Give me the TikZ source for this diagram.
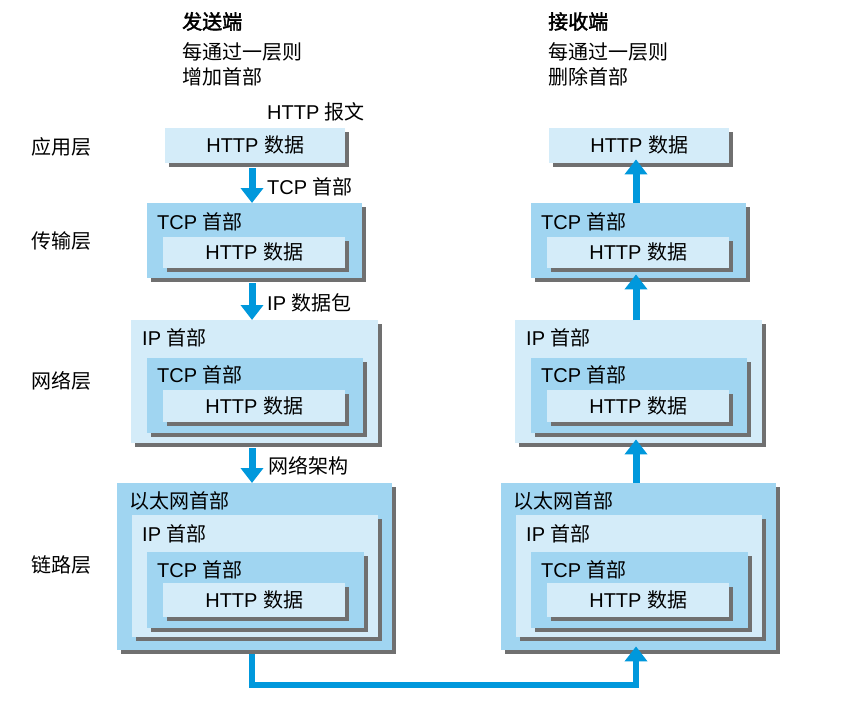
\documentclass[tikz,border=0pt]{standalone}
\usepackage{fontspec}
\setmainfont{Liberation Sans}
\newfontfamily\cjk{Noto Sans CJK SC}
\newfontfamily\cjkb[FakeBold=2]{Noto Sans CJK SC}
\usetikzlibrary{arrows.meta,shadows}
\definecolor{lightc}{RGB}{212,236,249}
\definecolor{midc}{RGB}{160,213,241}
\definecolor{flowc}{RGB}{0,152,220}
\definecolor{shadowc}{RGB}{112,112,112}
\tikzset{
  pkt/.style={draw=none, inner sep=0pt, anchor=north west,
    drop shadow={shadow xshift=4pt, shadow yshift=-4pt, fill=shadowc, opacity=1}},
  lightbox/.style={pkt, fill=lightc},
  midbox/.style={pkt, fill=midc},
  txt/.style={font=\fontsize{20}{24}\selectfont, inner sep=0pt, text height=17pt, text depth=3pt},
  hd/.style={txt, anchor=west},
  flow/.style={line width=7pt, draw=flowc, -{Triangle[width=22pt,length=15pt]}},
}
\newcommand{\pktstack}[1]{%
  % application
  \node[lightbox, minimum width=180pt, minimum height=35pt] (#1a) at (165,128) {};
  \node[txt] (#1at) at (#1a.center) {HTTP \cjk{数据}};
  % transport
  \node[midbox, minimum width=215pt, minimum height=75pt] (#1t) at (147,203) {};
  \node[hd] (#1tl) at (157,222) {TCP \cjk{首部}};
  \node[lightbox, minimum width=182pt, minimum height=31pt] (#1th) at (163,237) {};
  \node[txt] (#1tht) at (#1th.center) {HTTP \cjk{数据}};
  % network
  \node[lightbox, minimum width=247pt, minimum height=123pt] (#1n) at (131,320) {};
  \node[hd] (#1nl) at (142,338) {IP \cjk{首部}};
  \node[midbox, minimum width=216pt, minimum height=75pt] (#1nt) at (147,358) {};
  \node[hd] (#1ntl) at (157,375) {TCP \cjk{首部}};
  \node[lightbox, minimum width=182pt, minimum height=32pt] (#1nh) at (163,390) {};
  \node[txt] (#1nht) at (#1nh.center) {HTTP \cjk{数据}};
  % link
  \node[midbox, minimum width=275pt, minimum height=167pt] (#1l) at (117,483) {};
  \node[hd] (#1ll) at (129,501) {\cjk{以太网首部}};
  \node[lightbox, minimum width=246pt, minimum height=122pt] (#1li) at (132,515) {};
  \node[hd] (#1lil) at (142,534) {IP \cjk{首部}};
  \node[midbox, minimum width=217pt, minimum height=76pt] (#1lt) at (147,552) {};
  \node[hd] (#1ltl) at (157,570) {TCP \cjk{首部}};
  \node[lightbox, minimum width=182pt, minimum height=34pt] (#1lh) at (163,583) {};
  \node[txt] (#1lht) at (#1lh.center) {HTTP \cjk{数据}};
}
\begin{document}
\begin{tikzpicture}[x=1pt,y=-1pt]
\useasboundingbox (0,0) rectangle (866,715);
\fill[white] (0,0) rectangle (866,715);

\pktstack{L}
\begin{scope}[xshift=384pt]
  \pktstack{R}
\end{scope}

% headings
\node[hd] (h1) at (182,22) {\cjkb 发送端};
\node[hd] (h2) at (182,52) {\cjk 每通过一层则};
\node[hd] (h3) at (182,77) {\cjk 增加首部};
\node[hd] (h4) at (548,22) {\cjkb 接收端};
\node[hd] (h5) at (548,52) {\cjk 每通过一层则};
\node[hd] (h6) at (548,77) {\cjk 删除首部};
\node[hd] (msg) at (267,112) {HTTP \cjk{报文}};

% layer labels
\node[hd] (y1) at (31,147) {\cjk 应用层};
\node[hd] (y2) at (31,241) {\cjk 传输层};
\node[hd] (y3) at (31,381) {\cjk 网络层};
\node[hd] (y4) at (31,565) {\cjk 链路层};

% connectors
\coordinate (lx) at (252,0);
\coordinate (rx) at (636,0);
\coordinate (yb) at (0,685);
\draw[flow, shorten <=5pt] (lx |- La.south) -- (lx |- Lt.north);
\draw[flow, shorten <=5pt] (lx |- Lt.south) -- (lx |- Ln.north);
\draw[flow, shorten <=5pt] (lx |- Ln.south) -- (lx |- Ll.north);
\node[hd] (a1) at (267,187) {TCP \cjk{首部}};
\node[hd] (a2) at (267,303) {IP \cjk{数据包}};
\node[hd] (a3) at (268,466) {\cjk 网络架构};

\draw[flow, shorten >=-4pt] (rx |- Rt.north) -- (rx |- Ra.south);
\draw[flow, shorten >=-4pt] (rx |- Rn.north) -- (rx |- Rt.south);
\draw[flow, shorten >=-4pt] (rx |- Rl.north) -- (rx |- Rn.south);

\draw[flow, line width=6pt, shorten <=4pt, shorten >=-4pt]
  (lx |- Ll.south) -- (lx |- yb) -- (rx |- yb) -- (rx |- Rl.south);
\end{tikzpicture}
\end{document}
